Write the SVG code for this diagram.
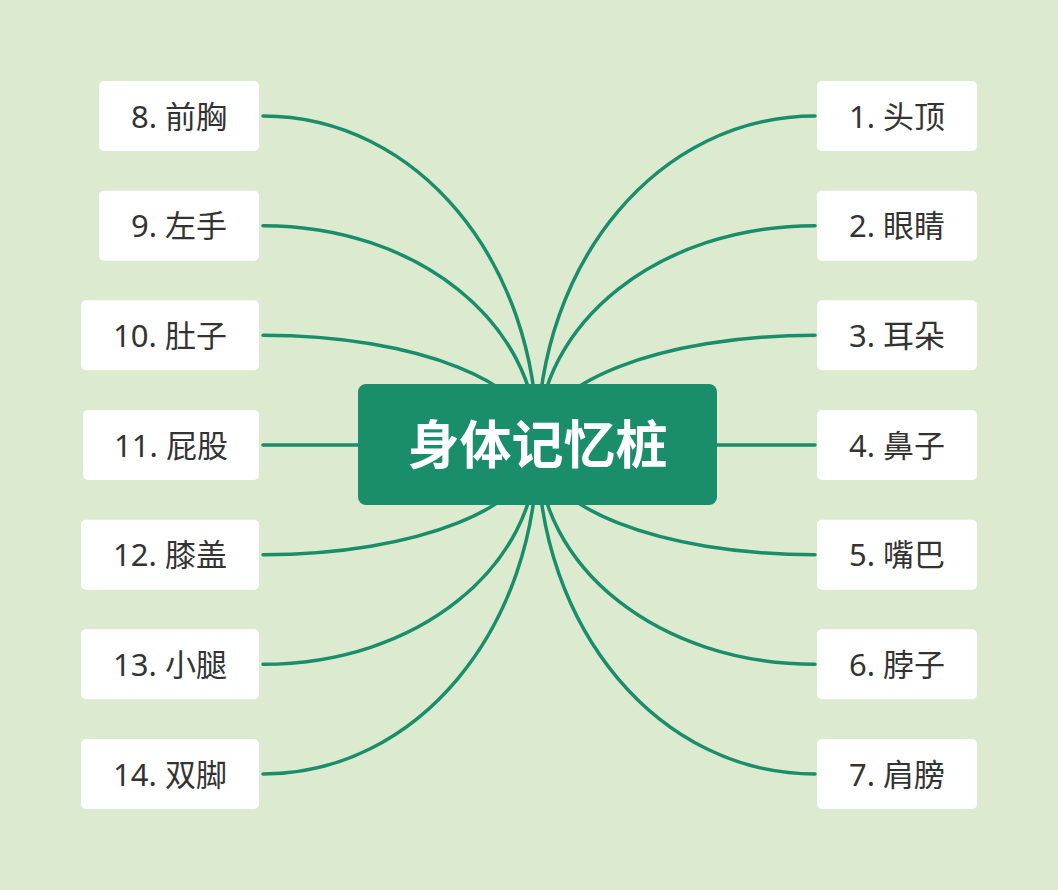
<svg xmlns="http://www.w3.org/2000/svg" width="1058" height="890" viewBox="0 0 1058 890">
<style>
.bg{fill:#dcebd0}
.link{fill:none;stroke:#1a8d6a;stroke-width:3.5;stroke-linecap:round}
.box{fill:#ffffff}
.lbl{font-family:"Noto Sans","Noto Sans CJK SC",sans-serif;font-size:31px;fill:#333333;text-anchor:middle}
.root{fill:#1a8d6a}
.rootlbl{font-family:"Noto Sans CJK SC",sans-serif;font-weight:bold;font-size:52px;fill:#ffffff;text-anchor:middle}
</style>
<rect class="bg" x="0" y="0" width="1058" height="890"/>
<g id="connectors">
<path class="link" d="M537.5,445 C537.5,260.8 416.7,116 263,116"/>
<path class="link" d="M537.5,445 C537.5,322.2 416.7,225.7 263,225.7"/>
<path class="link" d="M537.5,445 C537.5,383.6 416.7,335.3 263,335.3"/>
<path class="link" d="M537.5,445 L263,445"/>
<path class="link" d="M537.5,445 C537.5,506.4 416.7,554.7 263,554.7"/>
<path class="link" d="M537.5,445 C537.5,567.8 416.7,664.3 263,664.3"/>
<path class="link" d="M537.5,445 C537.5,629.2 416.7,774 263,774"/>
<path class="link" d="M537.5,445 C537.5,260.8 659.6,116 815,116"/>
<path class="link" d="M537.5,445 C537.5,322.2 659.6,225.7 815,225.7"/>
<path class="link" d="M537.5,445 C537.5,383.6 659.6,335.3 815,335.3"/>
<path class="link" d="M537.5,445 L815,445"/>
<path class="link" d="M537.5,445 C537.5,506.4 659.6,554.7 815,554.7"/>
<path class="link" d="M537.5,445 C537.5,567.8 659.6,664.3 815,664.3"/>
<path class="link" d="M537.5,445 C537.5,629.2 659.6,774 815,774"/>
</g>
<g id="root">
<rect class="root" x="358" y="384" width="359" height="121" rx="8"/>
<text class="rootlbl" x="537.5" y="464">身体记忆桩</text>
</g>
<g id="n1"><rect class="box" x="817" y="81" width="160" height="70" rx="5"/><text class="lbl" x="897" y="127.5">1. 头顶</text></g>
<g id="n2"><rect class="box" x="817" y="190.7" width="160" height="70" rx="5"/><text class="lbl" x="897" y="237.2">2. 眼睛</text></g>
<g id="n3"><rect class="box" x="817" y="300.3" width="160" height="70" rx="5"/><text class="lbl" x="897" y="346.8">3. 耳朵</text></g>
<g id="n4"><rect class="box" x="817" y="410" width="160" height="70" rx="5"/><text class="lbl" x="897" y="456.5">4. 鼻子</text></g>
<g id="n5"><rect class="box" x="817" y="519.7" width="160" height="70" rx="5"/><text class="lbl" x="897" y="566.2">5. 嘴巴</text></g>
<g id="n6"><rect class="box" x="817" y="629.3" width="160" height="70" rx="5"/><text class="lbl" x="897" y="675.8">6. 脖子</text></g>
<g id="n7"><rect class="box" x="817" y="739" width="160" height="70" rx="5"/><text class="lbl" x="897" y="785.5">7. 肩膀</text></g>
<g id="n8"><rect class="box" x="99" y="81" width="160" height="70" rx="5"/><text class="lbl" x="179" y="127.5">8. 前胸</text></g>
<g id="n9"><rect class="box" x="99" y="190.7" width="160" height="70" rx="5"/><text class="lbl" x="179" y="237.2">9. 左手</text></g>
<g id="n10"><rect class="box" x="81" y="300.3" width="178" height="70" rx="5"/><text class="lbl" x="170" y="346.8">10. 肚子</text></g>
<g id="n11"><rect class="box" x="83" y="410" width="176" height="70" rx="5"/><text class="lbl" x="171" y="456.5">11. 屁股</text></g>
<g id="n12"><rect class="box" x="81" y="519.7" width="178" height="70" rx="5"/><text class="lbl" x="170" y="566.2">12. 膝盖</text></g>
<g id="n13"><rect class="box" x="81" y="629.3" width="178" height="70" rx="5"/><text class="lbl" x="170" y="675.8">13. 小腿</text></g>
<g id="n14"><rect class="box" x="81" y="739" width="178" height="70" rx="5"/><text class="lbl" x="170" y="785.5">14. 双脚</text></g>
</svg>
